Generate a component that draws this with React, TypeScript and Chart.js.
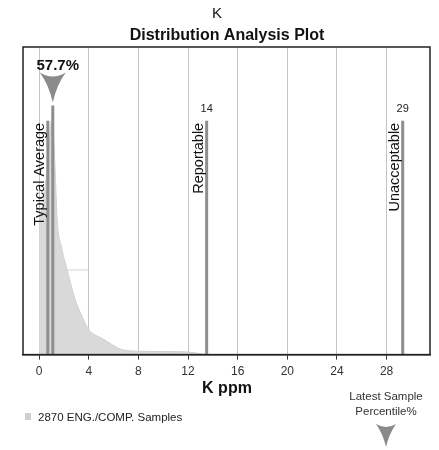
import React, { useEffect, useRef } from "react";
import { Chart, registerables } from "chart.js";

Chart.register(...registerables);

const chartTitle = "K";
const chartSubtitle = "Distribution Analysis Plot";
const axisTitle = "K ppm";
const legendLabel = "2870 ENG./COMP. Samples";
const latestLabel = ["Latest Sample", "Percentile%"];

const xTicks = [0, 4, 8, 12, 16, 20, 24, 28];

const distX = [0, 0.25, 0.5, 0.75, 1.0, 1.15, 1.3, 1.45, 1.8, 2.25, 2.9, 3.5, 4, 5.1, 6.7, 8, 10, 11.8, 13, 13.5];
const distY = [45, 48, 55, 65, 76, 72, 59, 44, 35, 27.6, 17.9, 12, 8.1, 5.2, 1.6, 1.1, 1.0, 0.9, 0.3, 0];

const markerNames = ["Typical Average", "", "Reportable", "Unacceptable"];
const markerValues = [0.7, 1.1, 13.5, 29.3];
const markerHeights = [76, 81, 76, 76];
const markerTopLabels = ["", "", "14", "29"];

const percentileLabel = "57.7%";
const percentileIndex = 1;

const medianX = [2, 4];
const medianY = [27.5, 27.5];

const FONT = "'Liberation Sans', Arial, sans-serif";

export default function App() {
  const ref = useRef<HTMLCanvasElement | null>(null);

  useEffect(() => {
    document.body.style.margin = "0";
    const canvas = ref.current!;
    const overlay = {
      id: "overlay",
      afterDatasetsDraw(chart: any) {
        const ctx = chart.ctx as CanvasRenderingContext2D;
        const xs = chart.scales.x;
        const ys = chart.scales.y;
        const area = chart.chartArea;
        ctx.save();
        // frame
        ctx.strokeStyle = "#222";
        ctx.lineWidth = 1.5;
        ctx.strokeRect(area.left, area.top, area.right - area.left, area.bottom - area.top);

        // rotated labels
        ctx.fillStyle = "#111";
        ctx.font = `14.5px ${FONT}`;
        markerNames.forEach((name, i) => {
          if (!name) return;
          const px = xs.getPixelForValue(markerValues[i]);
          const top = ys.getPixelForValue(markerHeights[i]);
          ctx.save();
          ctx.translate(px - 8, top + 2);
          ctx.rotate(-Math.PI / 2);
          ctx.textAlign = "right";
          ctx.textBaseline = "middle";
          ctx.fillText(name, 0, 0);
          ctx.restore();
        });

        // top value labels
        ctx.font = `11px ${FONT}`;
        ctx.fillStyle = "#222";
        ctx.textAlign = "center";
        ctx.textBaseline = "middle";
        markerTopLabels.forEach((lab, i) => {
          if (!lab) return;
          const px = xs.getPixelForValue(markerValues[i]);
          const top = ys.getPixelForValue(markerHeights[i]);
          ctx.fillText(lab, px, top - 12);
        });

        // percentile marker
        const ppx = xs.getPixelForValue(markerValues[percentileIndex]);
        const ptop = ys.getPixelForValue(markerHeights[percentileIndex]);
        const tip = ptop - 3;
        const tTop = tip - 30;
        ctx.fillStyle = "#8a8a8a";
        ctx.beginPath();
        ctx.moveTo(ppx - 13, tTop);
        ctx.quadraticCurveTo(ppx, tTop + 8, ppx + 13, tTop);
        ctx.quadraticCurveTo(ppx + 4, tTop + 12, ppx, tip);
        ctx.quadraticCurveTo(ppx - 4, tTop + 12, ppx - 13, tTop);
        ctx.closePath();
        ctx.fill();
        ctx.fillStyle = "#111";
        ctx.font = `bold 15px ${FONT}`;
        ctx.textAlign = "center";
        ctx.textBaseline = "middle";
        ctx.fillText(percentileLabel, ppx + 5, tTop - 7);

        // titles
        ctx.font = `15px ${FONT}`;
        ctx.fillStyle = "#111";
        ctx.fillText(chartTitle, 217, 14);
        ctx.font = `bold 16px ${FONT}`;
        ctx.fillText(chartSubtitle, 227, 36);
        ctx.font = `bold 16px ${FONT}`;
        ctx.fillText(axisTitle, 227, 389);

        // legend
        ctx.fillStyle = "#cfcfcf";
        ctx.fillRect(25, 413, 6, 7);
        ctx.fillStyle = "#222";
        ctx.font = `11.5px ${FONT}`;
        ctx.textAlign = "left";
        ctx.fillText(legendLabel, 38, 418);

        ctx.textAlign = "center";
        ctx.font = `11.5px ${FONT}`;
        ctx.fillStyle = "#333";
        ctx.fillText(latestLabel[0], 386, 397);
        ctx.fillText(latestLabel[1], 386, 412);
        ctx.fillStyle = "#8a8a8a";
        ctx.beginPath();
        ctx.moveTo(376, 424);
        ctx.quadraticCurveTo(386, 430, 396, 424);
        ctx.quadraticCurveTo(389, 434, 386, 447);
        ctx.quadraticCurveTo(383, 434, 376, 424);
        ctx.closePath();
        ctx.fill();
        ctx.restore();
      },
    };

    const lineDatasets = markerValues.map((v, i) => ({
      type: "line" as const,
      data: [
        { x: v, y: 0 },
        { x: v, y: markerHeights[i] },
      ],
      borderColor: "#8e8e8e",
      borderWidth: 3,
      pointRadius: 0,
      fill: false,
      order: 1,
    }));

    const chart = new Chart(canvas, {
      type: "line",
      data: {
        datasets: [
          {
            data: distX.map((x, i) => ({ x, y: distY[i] })),
            borderColor: "#cfcfcf",
            backgroundColor: "#d9d9d9",
            borderWidth: 1,
            pointRadius: 0,
            fill: "origin",
            cubicInterpolationMode: "monotone",
            order: 3,
          },
          {
            data: medianX.map((x, i) => ({ x, y: medianY[i] })),
            borderColor: "#d4d4d4",
            borderWidth: 1,
            pointRadius: 0,
            fill: false,
            order: 2,
          },
          ...lineDatasets,
        ],
      },
      plugins: [overlay],
      options: {
        animation: false,
        responsive: false,
        maintainAspectRatio: false,
        layout: { padding: { left: 23, right: 9, top: 47, bottom: 66 } },
        plugins: { legend: { display: false }, tooltip: { enabled: false }, title: { display: false } },
        scales: {
          x: {
            type: "linear",
            min: -1.3,
            max: 31.5,
            afterBuildTicks: (axis: any) => {
              axis.ticks = xTicks.map((v) => ({ value: v }));
            },
            grid: { color: "#c4c4c4", lineWidth: 1, tickColor: "#333", tickLength: 5, drawOnChartArea: true },
            border: { display: true, color: "#222", width: 1.5 },
            ticks: { color: "#333", font: { family: FONT, size: 12 }, padding: 5, maxRotation: 0, autoSkip: false },
          },
          y: { display: false, min: 0, max: 100 },
        },
      },
    });
    return () => chart.destroy();
  }, []);

  return (
    <div style={{ width: 439, height: 450, background: "#fff" }}>
      <canvas ref={ref} width={439} height={450} style={{ width: 439, height: 450, display: "block" }} />
    </div>
  );
}
